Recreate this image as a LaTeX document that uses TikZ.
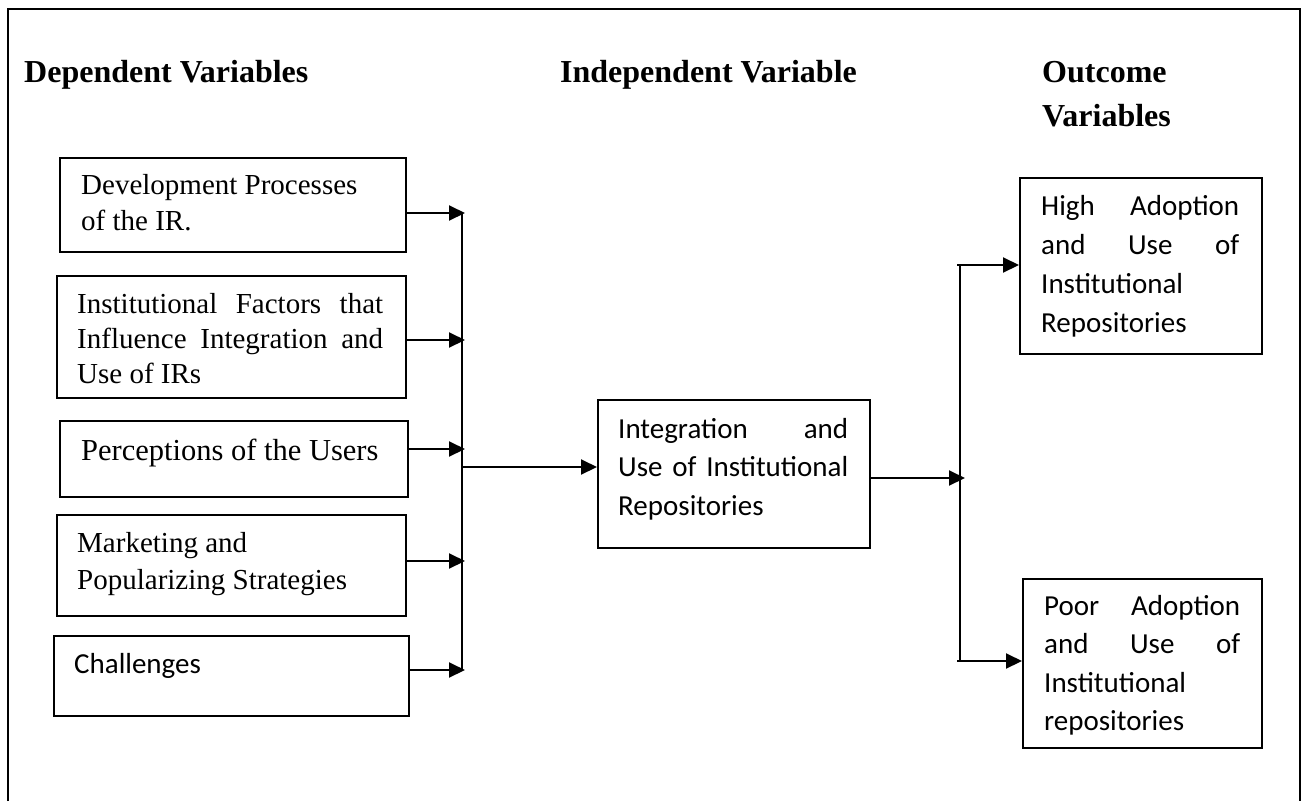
\documentclass[tikz,border=0pt]{standalone}
\usepackage{fontspec}
\setmainfont{Liberation Serif}
\newfontfamily\calibri{Carlito}
\usetikzlibrary{arrows.meta}
\newcommand\tbox[4]{\parbox[t]{#1}{\fontsize{#2}{#3}\selectfont #4}}
\begin{document}
\begin{tikzpicture}[x=1pt,y=-1pt,
  boxnode/.style={draw, line width=1.5pt, inner sep=0pt, anchor=north west},
  txt/.style={inner sep=0pt, anchor=base west},
  serif/.style={txt, font=\rmfamily},
  sans/.style={txt, font=\calibri},
  title/.style={txt, font=\bfseries},
  conn/.style={line width=2pt},
  arr/.style={conn, -{Triangle[length=16pt,width=15pt]}}]
\useasboundingbox (0,0) rectangle (1306,801);
\draw[line width=2pt] (8,801) -- (8,9) -- (1300,9) -- (1300,801);

% titles
\node[title] (tdep) at (24,82) {\tbox{320pt}{32pt}{44pt}{Dependent Variables}};
\node[title] (tind) at (560,82) {\tbox{320pt}{32pt}{44pt}{Independent Variable}};
\node[title] (tout) at (1042,82) {\tbox{240pt}{32pt}{44pt}{Outcome\\Variables}};

% left boxes
\node[boxnode, minimum width=346pt, minimum height=94pt] (b1) at (59,157) {};
\node[serif] (t1) at (81,194) {\tbox{310pt}{29pt}{36pt}{Development Processes\\of the IR.}};
\node[boxnode, minimum width=349pt, minimum height=122pt] (b2) at (56,275) {};
\node[serif] (t2) at (77,313) {\tbox{306pt}{29pt}{35pt}{Institutional\hfill Factors\hfill that\\Influence\hfill Integration\hfill and\\Use of IRs}};
\node[boxnode, minimum width=348pt, minimum height=76pt] (b3) at (59,420) {};
\node[serif] (t3) at (81,460) {\tbox{320pt}{30.5pt}{36pt}{Perceptions of the Users}};
\node[boxnode, minimum width=349pt, minimum height=101pt] (b4) at (56,514) {};
\node[serif] (t4) at (77,552) {\tbox{320pt}{29pt}{37.5pt}{Marketing and\\Popularizing Strategies}};
\node[boxnode, minimum width=355pt, minimum height=80pt] (b5) at (53,635) {};
\node[sans] (t5) at (74,673) {\tbox{320pt}{29pt}{38pt}{Challenges}};

% centre box
\node[boxnode, minimum width=272pt, minimum height=148pt] (cb) at (597,399) {};
\node[sans] (tc) at (618,438) {\tbox{230pt}{29pt}{38.5pt}{Integration\hfill and\\Use\hfill of\hfill Institutional\\Repositories}};

% right boxes
\node[boxnode, minimum width=242pt, minimum height=176pt] (hi) at (1019,177) {};
\node[sans] (th) at (1041,215) {\tbox{198pt}{29pt}{39pt}{High\hfill Adoption\\and\hfill Use\hfill of\\Institutional\\Repositories}};
\node[boxnode, minimum width=239pt, minimum height=169pt] (po) at (1022,578) {};
\node[sans] (tp) at (1044,615) {\tbox{196pt}{29pt}{38.5pt}{Poor\hfill Adoption\\and\hfill Use\hfill of\\Institutional\\repositories}};

% junction points
\coordinate (L1) at (465,213);
\coordinate (L2) at (465,340);
\coordinate (L3) at (465,449);
\coordinate (L4) at (465,561);
\coordinate (L5) at (465,670);
\coordinate (LT) at (462,213);
\coordinate (LB) at (462,670);
\coordinate (LM) at (463,467);
\coordinate (RM) at (965,478);
\coordinate (RT) at (960,265);
\coordinate (RB) at (960,661);
\coordinate (RTs) at (957,265);
\coordinate (RBs) at (957,661);

% connectors
\draw[arr] (b1.east |- L1) -- (L1);
\draw[arr] (b2.east |- L2) -- (L2);
\draw[arr] (b3.east |- L3) -- (L3);
\draw[arr] (b4.east |- L4) -- (L4);
\draw[arr] (b5.east |- L5) -- (L5);
\draw[conn] (LT) -- (LB);
\draw[arr] (LM) -- (cb.west |- LM);
\draw[arr] (cb.east |- RM) -- (RM);
\draw[conn] (RT) -- (RB);
\draw[arr] (RTs) -- (hi.west |- RTs);
\draw[arr] (RBs) -- (po.west |- RBs);
\end{tikzpicture}
\end{document}
